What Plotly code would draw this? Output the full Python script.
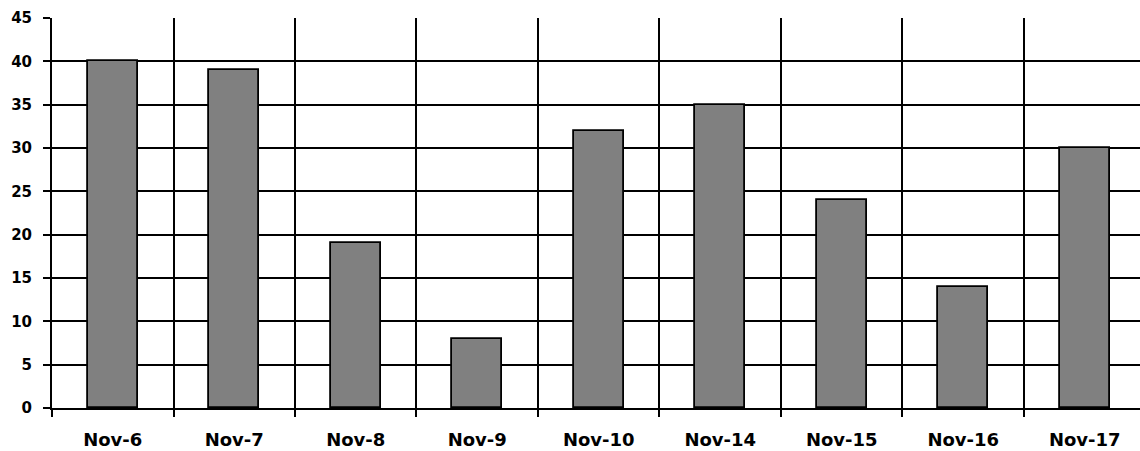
import plotly.graph_objects as go

categories = ["Nov-6", "Nov-7", "Nov-8", "Nov-9", "Nov-10", "Nov-14", "Nov-15", "Nov-16", "Nov-17"]
values = [40, 39, 19, 8, 32, 35, 24, 14, 30]
y_ticks = [0, 5, 10, 15, 20, 25, 30, 35, 40, 45]

xpos = list(range(len(categories)))
bounds = [i + 0.5 for i in range(-1, len(categories))]

fig = go.Figure(go.Bar(
    x=xpos, y=values, width=0.41,
    marker=dict(color="#808080", line=dict(color="black", width=1.8)),
))

font = dict(family="DejaVu Sans", size=14, color="black")

fig.update_layout(
    width=1140, height=451,
    margin=dict(l=52, r=0, t=18, b=43),
    plot_bgcolor="white", paper_bgcolor="white",
    showlegend=False,
    font=font,
    bargap=0,
)
fig.update_xaxes(
    range=[-0.5, 8.455],
    tickvals=xpos, ticktext=["<b>%s</b>" % c for c in categories],
    ticks="", showgrid=False,
    showline=True, linecolor="black", linewidth=2,
    zeroline=False,
    minor=dict(tickvals=bounds, ticks="outside", ticklen=7, tickwidth=1.8, tickcolor="black",
               showgrid=True, gridcolor="black", gridwidth=1.8),
    tickfont=dict(size=18),
    ticklabelstandoff=14,
)
fig.update_yaxes(
    range=[0, 45],
    tickvals=y_ticks, ticktext=["<b>%d</b>" % v for v in y_ticks],
    ticks="outside", ticklen=7, tickwidth=1.8, tickcolor="black",
    showgrid=True, gridcolor="black", gridwidth=2,
    showline=True, linecolor="black", linewidth=2,
    zeroline=False,
    tickfont=dict(size=15),
    ticklabelstandoff=8,
)

fig.write_html("out.html")
